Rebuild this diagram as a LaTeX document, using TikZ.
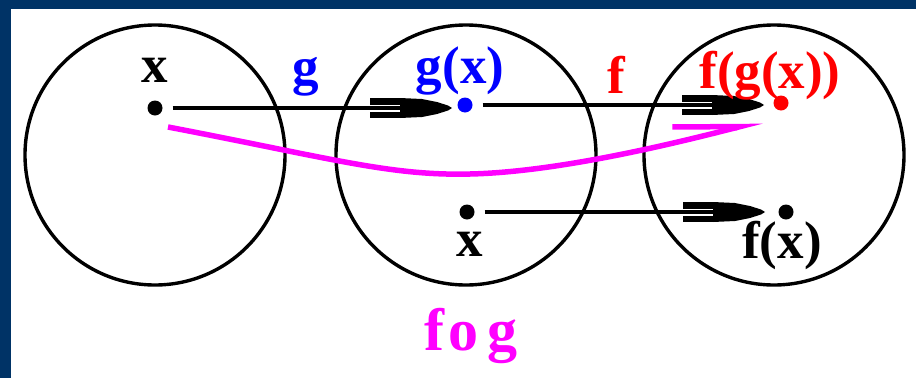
\documentclass[tikz,border=0pt]{standalone}
\usepackage{fontspec}
\setmainfont{Liberation Serif}
\usetikzlibrary{arrows.meta}
\definecolor{navy}{RGB}{0,51,102}
\definecolor{pmag}{RGB}{255,0,255}
\definecolor{pblue}{RGB}{0,0,255}
\definecolor{pred}{RGB}{255,0,0}
\begin{document}
\begin{tikzpicture}[x=1pt,y=-1pt,
  setc/.style={draw=black, line width=3.4pt, circle, minimum size=260pt, inner sep=0},
  dot/.style={circle, fill=#1, minimum size=15pt, inner sep=0},
  lbl/.style={font=\fontsize{53}{60}\selectfont\bfseries, inner sep=0, anchor=base, text=#1},
  conn/.style={line width=4.2pt, shorten <=10pt, shorten >=8pt},
  comp/.style={pmag, line width=5.5pt, -{Straight Barb[left, length=66pt, angle'=28, line width=5.5pt]}},
  pics/tipthree/.style={code={
    \fill (-82,3.5) rectangle (-50,10);
    \fill (-82,-3.5) rectangle (-50,-10);
    \fill (-52,10) -- (-30,9) -- (-15,6) -- (-4,2.5) -- (0,0) -- (-4,-2.5) -- (-15,-6) -- (-30,-9) -- (-52,-10) -- cycle;
  }}
]
\fill[navy] (0,0) rectangle (916,378);
\fill[white] (11,9) rectangle (916,378);
\useasboundingbox (0,0) rectangle (916,378);

\node[setc] (A) at (155,155) {};
\node[setc] (B) at (466,155) {};
\node[setc] (C) at (774,155) {};

\node[dot=black] (x1) at (155,108) {};
\node[dot=pblue] (gx) at (465,105) {};
\node[dot=pred] (fgx) at (781,103) {};
\node[dot=black] (x2) at (467,212) {};
\node[dot=black] (fx) at (786,212) {};

\coordinate (t1) at (452,108);
\coordinate (t2) at (764,105);
\coordinate (t3) at (765,212);

\draw[conn] (x1) -- (t1); \pic at (t1) {tipthree};
\draw[conn] (gx) -- (t2); \pic at (t2) {tipthree};
\draw[conn] (x2) -- (t3); \pic at (t3) {tipthree};

\coordinate (m0) at (168,127);
\coordinate (m1) at (762,121);
\draw[comp] (m0) .. controls (330,158) and (390,176) .. (470,174) .. controls (560,172) and (680,142) .. (m1);

\node[lbl=black] (lx1) at (155,82) {x};
\node[lbl=pblue] (lg) at (306,84) {g};
\node[lbl=pblue] (lgx) at (460,83) {g(x)};
\node[lbl=pred] (lf) at (616,93) {f};
\node[lbl=pred] (lfgx) at (770,88) {f(g(x))};
\node[lbl=black] (lx2) at (470,256) {x};
\node[lbl=black] (lfx) at (782,258) {f(x)};
\node[lbl=pmag, font=\fontsize{60}{66}\selectfont\bfseries] (lfog) at (471,350) {f\kern4pt o\kern9pt g};
\end{tikzpicture}
\end{document}
